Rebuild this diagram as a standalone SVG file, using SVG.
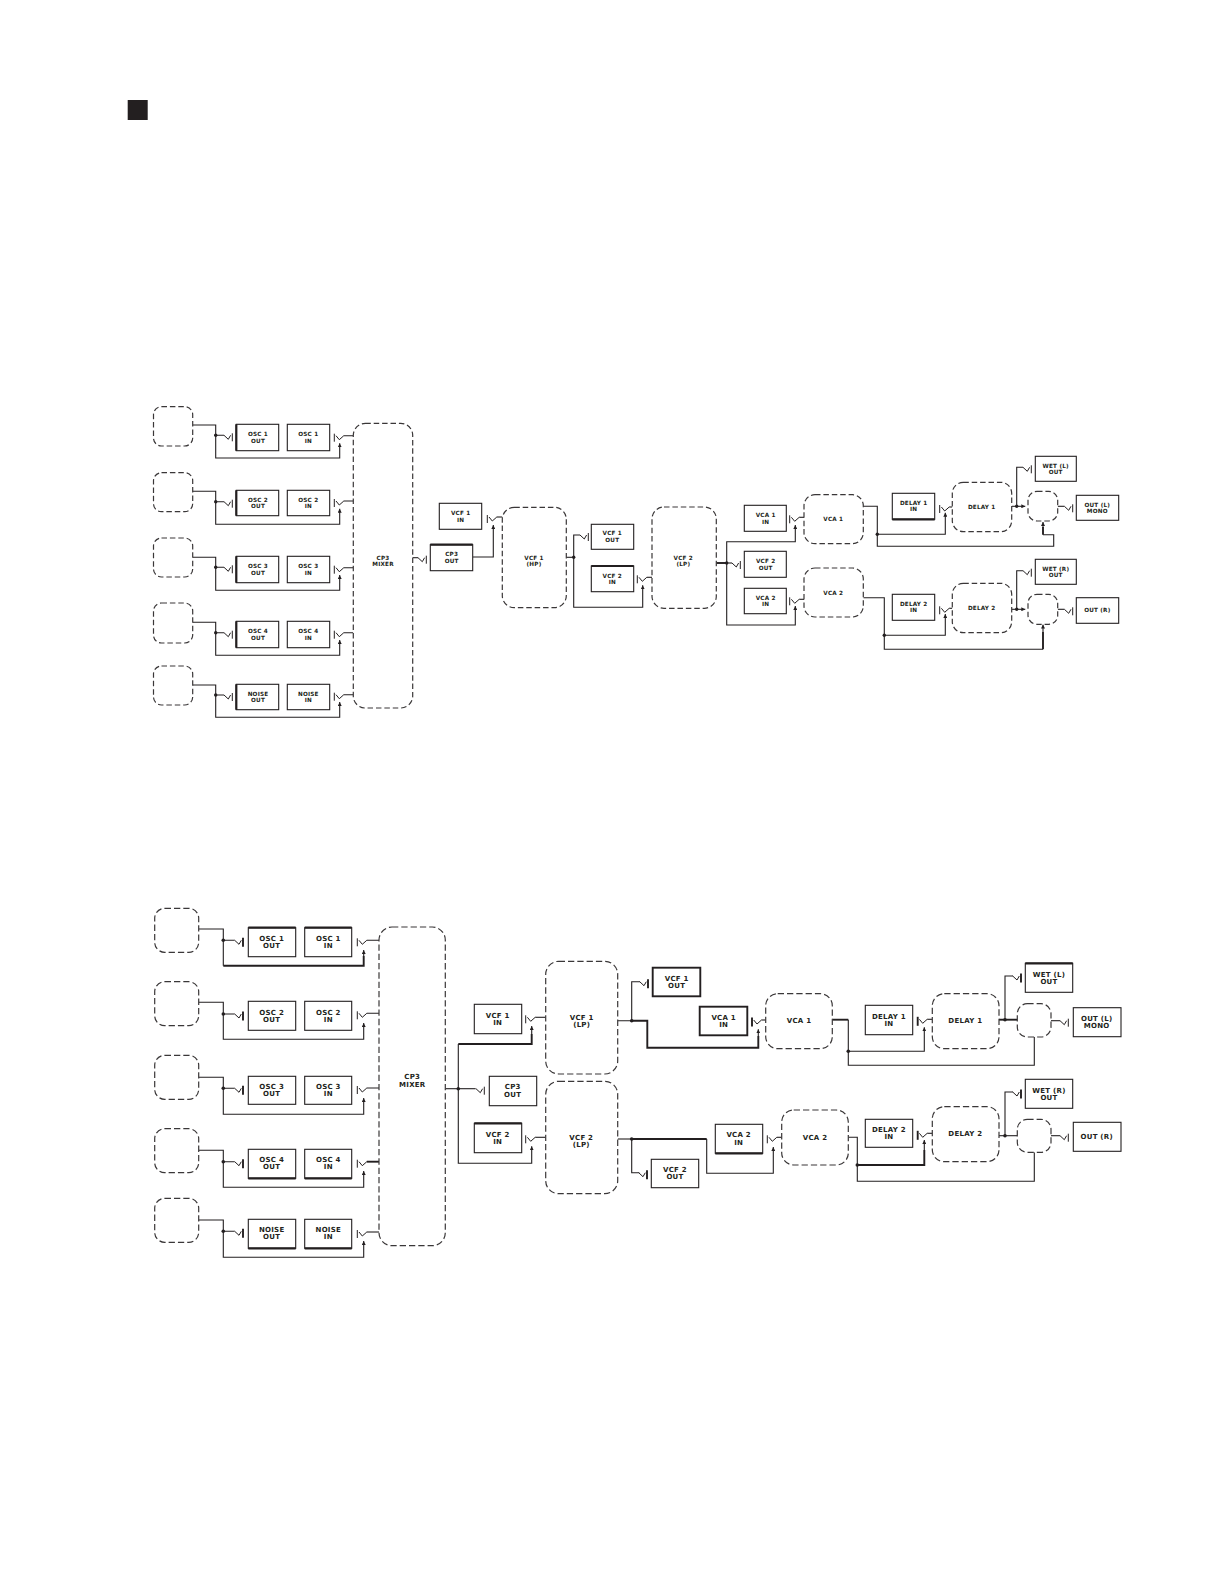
<svg xmlns="http://www.w3.org/2000/svg" width="1224" height="1584" viewBox="0 0 1224 1584">
<style>
text{font-family:"DejaVu Sans","Liberation Sans",sans-serif;font-weight:700;fill:#231f20;text-anchor:middle}
.a text{font-size:5.7px;letter-spacing:.2px}
.b text{font-size:7px;letter-spacing:.25px}
rect{fill:#fff;stroke:#231f20;stroke-width:1.1}
rect.d{stroke-dasharray:5.5 2.9;stroke:#3a3738;stroke-width:1.2}
.b rect.d{stroke-dasharray:6.3 3}
.e{fill:none;stroke:#231f20;stroke-width:2.2}
.w{fill:none;stroke:#231f20;stroke-width:1.1}
.k{fill:none;stroke:#231f20;stroke-width:1.9}
.s{fill:none;stroke:#231f20;stroke-width:1}
circle{fill:#231f20}
</style>
<defs>
<marker id="ah" markerUnits="userSpaceOnUse" viewBox="0 0 4 4" refX="4" refY="2" markerWidth="4" markerHeight="4" orient="auto"><path d="M0,0L4,2L0,4Z" fill="#231f20"/></marker>
<g id="so"><path class="s" d="M-8.3,0L-4,4L-1.7,0"/><path class="s" d="M0,-2V6"/></g>
<g id="si"><path class="s" d="M1.7,0L5,4L9.5,0"/><path class="s" d="M0,-2V6"/></g>
<g id="soT"><path class="s" d="M-8.3,0L-4,4L-1.7,0"/><path class="k" d="M0,-2.5V6.5"/></g>
<g id="siT"><path class="s" d="M1.7,0L5,4L9.5,0"/><path class="k" d="M0,-2.5V6.5"/></g>
</defs>
<rect id="square" x="127.7" y="100" width="20" height="20" style="fill:#231f20;stroke:none"/>

<g id="connectors-top">
<path class="w" marker-end="url(#ah)" d="M192.7,425H215.7V458H339.7V443.3"/>
<path class="w" marker-end="url(#ah)" d="M192.7,491.3H215.7V524.3H339.7V508.7"/>
<path class="w" marker-end="url(#ah)" d="M192.7,557.3H215.7V590.3H339.7V575"/>
<path class="w" marker-end="url(#ah)" d="M192.7,622.3H215.7V655.3H339.7V640"/>
<path class="w" marker-end="url(#ah)" d="M192.7,685H215.7V717.3H339.7V702"/>
<path class="w" d="M215.7,435.3H224M215.7,501.7H224M215.7,567.3H224M215.7,632.7H224M215.7,695H224"/>
<path class="w" d="M343.8,435.7H353.3M343.8,501H353.3M343.8,567.7H353.3M343.8,632.7H353.3M343.8,694.7H353.3"/>
<circle cx="215.7" cy="435.3" r="1.7"/><circle cx="215.7" cy="501.7" r="1.7"/><circle cx="215.7" cy="567.3" r="1.7"/><circle cx="215.7" cy="632.7" r="1.7"/><circle cx="215.7" cy="695" r="1.7"/>
<use href="#so" x="232.3" y="435.3"/><use href="#so" x="232.3" y="501.7"/><use href="#so" x="232.3" y="567.3"/><use href="#so" x="232.3" y="632.7"/><use href="#so" x="232.3" y="695"/>
<use href="#si" x="334.3" y="435.7"/><use href="#si" x="334.3" y="501"/><use href="#si" x="334.3" y="567.7"/><use href="#si" x="334.3" y="632.7"/><use href="#si" x="334.3" y="694.7"/>
<path class="w" d="M412.7,557.7H418"/><use href="#so" x="426.3" y="557.7"/>
<path class="w" marker-end="url(#ah)" d="M472.7,557H493.3V525"/>
<use href="#si" x="487.3" y="517"/><path class="w" d="M496.8,517H502.3"/>
<path class="w" d="M566.3,557.3H573.7"/><circle cx="573.7" cy="557.3" r="1.7"/>
<path class="w" d="M573.7,557.3V535H580"/><use href="#so" x="588.3" y="535"/>
<path class="w" marker-end="url(#ah)" d="M573.7,557.3V607.3H642.7V585.3"/>
<use href="#si" x="637.3" y="577.3"/><path class="w" d="M646.8,577.3H652"/>
<path class="k" d="M716.3,563H726.7"/><path class="w" d="M726.7,563H732"/><circle cx="726.7" cy="563" r="1.7"/><use href="#so" x="740.3" y="563"/>
<path class="w" marker-end="url(#ah)" d="M726.7,563V541.7H795.3V525"/>
<path class="w" marker-end="url(#ah)" d="M726.7,563V625H795.3V606"/>
<use href="#si" x="789.7" y="517.3"/><path class="w" d="M799.2,517.3H804"/>
<use href="#si" x="789.7" y="599.3"/><path class="w" d="M799.2,599.3H804"/>
<path class="w" d="M863.3,506.3H877.3V546.3H1053.7V534.7H1043"/><path class="k" d="M1043,534.7V527"/><path class="w" marker-end="url(#ah)" d="M1043,528V522"/>
<path class="w" marker-end="url(#ah)" d="M877.3,534.3H945.3V512.7"/><circle cx="877.3" cy="534.3" r="1.7"/>
<use href="#si" x="939.7" y="507"/><path class="w" d="M949.2,507H952.3"/>
<path class="w" marker-end="url(#ah)" d="M1011.7,506.3H1025.3"/><circle cx="1016.7" cy="506.3" r="1.7"/>
<path class="w" d="M1016.7,506.3V467.3H1023"/><use href="#so" x="1031.3" y="467.3"/>
<path class="w" d="M1057.7,506.3H1064.4"/><use href="#so" x="1072.7" y="506.3"/>
<path class="w" d="M863.3,597.7H884.3V649.3H1043"/><path class="k" d="M1043,649.3V632"/><path class="w" marker-end="url(#ah)" d="M1043,632V624.5"/>
<path class="w" marker-end="url(#ah)" d="M884.3,635.3H945.3V614"/><circle cx="884.3" cy="635.3" r="1.7"/>
<use href="#si" x="939.7" y="608.3"/><path class="w" d="M949.2,608.3H952.3"/>
<path class="w" marker-end="url(#ah)" d="M1011.7,609.3H1025.3"/><circle cx="1016.7" cy="609.3" r="1.7"/>
<path class="w" d="M1016.7,609.3V570.7H1023"/><use href="#so" x="1031.3" y="570.7"/>
<path class="w" d="M1057.7,609.3H1064.4"/><use href="#so" x="1072.7" y="609.3"/>
</g>

<g class="a">
<g id="src-a1"><rect class="d" x="153.5" y="406.7" width="39.2" height="39.3" rx="8"/></g>
<g id="src-a2"><rect class="d" x="153.5" y="472.7" width="39.2" height="39" rx="8"/></g>
<g id="src-a3"><rect class="d" x="153.5" y="538" width="39.2" height="39" rx="8"/></g>
<g id="src-a4"><rect class="d" x="153.5" y="603" width="39.2" height="40" rx="8"/></g>
<g id="src-a5"><rect class="d" x="153.5" y="666" width="39.2" height="39" rx="8"/></g>
<g id="a-osc1out"><rect x="236.3" y="424.3" width="42.4" height="26.4"/><path class="e" d="M236.3,424.3V450.7"/><text><tspan x="258" y="436.3">OSC 1</tspan><tspan x="258" y="442.7">OUT</tspan></text></g>
<g id="a-osc1in"><rect x="287.3" y="424.3" width="42.4" height="26.4"/><text><tspan x="308.3" y="436.3">OSC 1</tspan><tspan x="308.3" y="442.7">IN</tspan></text></g>
<g id="a-osc2out"><rect x="236.3" y="490.3" width="42.4" height="25.4"/><path class="e" d="M236.3,490.3V515.7"/><text><tspan x="258" y="502">OSC 2</tspan><tspan x="258" y="508.4">OUT</tspan></text></g>
<g id="a-osc2in"><rect x="287.3" y="490.3" width="42.4" height="25.4"/><text><tspan x="308.3" y="502">OSC 2</tspan><tspan x="308.3" y="508.4">IN</tspan></text></g>
<g id="a-osc3out"><rect x="236.3" y="556.3" width="42.4" height="26.4"/><path class="e" d="M236.3,556.3V582.7"/><text><tspan x="258" y="568.3">OSC 3</tspan><tspan x="258" y="574.7">OUT</tspan></text></g>
<g id="a-osc3in"><rect x="287.3" y="556.3" width="42.4" height="26.4"/><text><tspan x="308.3" y="568.3">OSC 3</tspan><tspan x="308.3" y="574.7">IN</tspan></text></g>
<g id="a-osc4out"><rect x="236.3" y="621.3" width="42.4" height="26.4"/><path class="e" d="M236.3,621.3V647.7"/><text><tspan x="258" y="633.3">OSC 4</tspan><tspan x="258" y="639.7">OUT</tspan></text></g>
<g id="a-osc4in"><rect x="287.3" y="621.3" width="42.4" height="26.4"/><text><tspan x="308.3" y="633.3">OSC 4</tspan><tspan x="308.3" y="639.7">IN</tspan></text></g>
<g id="a-noiseout"><rect x="236.3" y="684.3" width="42.4" height="25.4"/><path class="e" d="M236.3,684.3V709.7"/><text><tspan x="258" y="696">NOISE</tspan><tspan x="258" y="702.4">OUT</tspan></text></g>
<g id="a-noisein"><rect x="287.3" y="684.3" width="42.4" height="25.4"/><text><tspan x="308.3" y="696">NOISE</tspan><tspan x="308.3" y="702.4">IN</tspan></text></g>
<g id="a-mixer"><rect class="d" x="353.3" y="423.3" width="59.4" height="284.7" rx="12"/><text><tspan x="383" y="560">CP3</tspan><tspan x="383" y="566.3">MIXER</tspan></text></g>
<g id="a-vcf1in"><rect x="439.3" y="503.3" width="42.4" height="26"/><text><tspan x="460.7" y="515">VCF 1</tspan><tspan x="460.7" y="521.7">IN</tspan></text></g>
<g id="a-cp3out"><rect x="430.3" y="544.7" width="42.4" height="26"/><path class="e" d="M430.3,544.7H472.7"/><text><tspan x="451.7" y="556.3">CP3</tspan><tspan x="451.7" y="562.7">OUT</tspan></text></g>
<g id="a-vcf1"><rect class="d" x="502.3" y="507.3" width="64" height="100.4" rx="12"/><text><tspan x="534" y="559.7">VCF 1</tspan><tspan x="534" y="566.3">(HP)</tspan></text></g>
<g id="a-vcf1out"><rect x="591.3" y="524.3" width="42.4" height="25"/><text><tspan x="612.3" y="535.3">VCF 1</tspan><tspan x="612.3" y="541.7">OUT</tspan></text></g>
<g id="a-vcf2in"><rect x="591.3" y="566" width="42.4" height="25.7"/><path class="e" d="M591.3,566H633.7"/><text><tspan x="612.3" y="577.7">VCF 2</tspan><tspan x="612.3" y="584">IN</tspan></text></g>
<g id="a-vcf2"><rect class="d" x="652" y="507" width="64.3" height="101.3" rx="12"/><text><tspan x="683.3" y="559.7">VCF 2</tspan><tspan x="683.3" y="566.3">(LP)</tspan></text></g>
<g id="a-vca1in"><rect x="744.3" y="505.3" width="42" height="26"/><text><tspan x="765.7" y="517.3">VCA 1</tspan><tspan x="765.7" y="523.7">IN</tspan></text></g>
<g id="a-vcf2out"><rect x="744.3" y="551.3" width="42" height="26"/><text><tspan x="765.7" y="563.3">VCF 2</tspan><tspan x="765.7" y="569.7">OUT</tspan></text></g>
<g id="a-vca2in"><rect x="744.3" y="588.3" width="42" height="25.4"/><text><tspan x="765.7" y="599.7">VCA 2</tspan><tspan x="765.7" y="606">IN</tspan></text></g>
<g id="a-vca1"><rect class="d" x="804" y="494.7" width="59.3" height="49" rx="11"/><text x="833.3" y="521">VCA 1</text></g>
<g id="a-vca2"><rect class="d" x="804" y="568" width="59.3" height="49" rx="11"/><text x="833.3" y="594.7">VCA 2</text></g>
<g id="a-delay1in"><rect x="892.3" y="493.3" width="42.4" height="26"/><path class="e" d="M892.3,519.3H934.7"/><text><tspan x="913.7" y="505">DELAY 1</tspan><tspan x="913.7" y="511.3">IN</tspan></text></g>
<g id="a-delay2in"><rect x="892.3" y="594.3" width="42.4" height="26"/><text><tspan x="913.7" y="606">DELAY 2</tspan><tspan x="913.7" y="612.3">IN</tspan></text></g>
<g id="a-delay1"><rect class="d" x="952.3" y="482.3" width="59.4" height="49.4" rx="11"/><text x="981.7" y="509.3">DELAY 1</text></g>
<g id="a-delay2"><rect class="d" x="952.3" y="583.3" width="59.4" height="49.4" rx="11"/><text x="981.7" y="610">DELAY 2</text></g>
<g id="a-mix1"><rect class="d" x="1028" y="491.3" width="29.7" height="29.7" rx="9"/></g>
<g id="a-mix2"><rect class="d" x="1028" y="594.3" width="29.7" height="30" rx="9"/></g>
<g id="a-wetl"><rect x="1035.3" y="456.3" width="41" height="25"/><text><tspan x="1055.7" y="468">WET (L)</tspan><tspan x="1055.7" y="474.3">OUT</tspan></text></g>
<g id="a-wetr"><rect x="1035.3" y="559.3" width="41" height="25"/><text><tspan x="1055.7" y="571">WET (R)</tspan><tspan x="1055.7" y="577.3">OUT</tspan></text></g>
<g id="a-outl"><rect x="1076.3" y="495.3" width="42.4" height="25"/><text><tspan x="1097.3" y="506.7">OUT (L)</tspan><tspan x="1097.3" y="513">MONO</tspan></text></g>
<g id="a-outr"><rect x="1076.3" y="597.7" width="42.4" height="25.6"/><text x="1097.3" y="612.3">OUT (R)</text></g>
</g>

<g id="connectors-bottom">
<path class="w" d="M198.7,929H223.3V965.7"/><path class="k" d="M223.3,965.7H363.7V956"/><path class="w" marker-end="url(#ah)" d="M363.7,956V950"/>
<path class="w" marker-end="url(#ah)" d="M198.7,1002.3H223.3V1039.3H363.7V1023"/>
<path class="w" marker-end="url(#ah)" d="M198.7,1077.3H223.3V1114.3H363.7V1098"/>
<path class="w" marker-end="url(#ah)" d="M198.7,1150.3H223.3V1187.3H363.7V1171"/>
<path class="w" marker-end="url(#ah)" d="M198.7,1220H223.3V1257.3H363.7V1241"/>
<path class="w" d="M223.3,940.3H234.7M223.3,1014H234.7M223.3,1088.3H234.7M223.3,1161.7H234.7M223.3,1231.3H234.7"/>
<path class="w" d="M366.8,940.3H379M366.8,1013.3H379M366.8,1088H379"/><path class="k" d="M366.8,1161.7H379"/><path class="w" d="M366.8,1232H379"/>
<circle cx="223.3" cy="940.3" r="1.8"/><circle cx="223.3" cy="1014" r="1.8"/><circle cx="223.3" cy="1088.3" r="1.8"/><circle cx="223.3" cy="1161.7" r="1.8"/><circle cx="223.3" cy="1231.3" r="1.8"/>
<use href="#soT" x="243" y="940.3"/><use href="#soT" x="243" y="1014"/><use href="#soT" x="243" y="1088.3"/><use href="#soT" x="243" y="1161.7"/><use href="#soT" x="243" y="1231.3"/>
<use href="#si" x="357.3" y="940.3"/><use href="#si" x="357.3" y="1013.3"/><use href="#si" x="357.3" y="1088"/><use href="#si" x="357.3" y="1161.7"/><use href="#si" x="357.3" y="1232"/>
<path class="w" d="M445.3,1088.7H475.7"/><circle cx="458.3" cy="1088.7" r="1.8"/><use href="#so" x="484.3" y="1088.7"/>
<path class="w" d="M458.3,1088.7V1044"/><path class="k" d="M458.3,1044H531.7V1034"/><path class="w" marker-end="url(#ah)" d="M531.7,1034V1026"/>
<path class="w" marker-end="url(#ah)" d="M458.3,1088.7V1163.3H531.7V1146.3"/>
<use href="#si" x="525.7" y="1017.3"/><path class="w" d="M535.2,1017.3H545.7"/>
<use href="#si" x="525.7" y="1137.3"/><path class="w" d="M535.2,1137.3H545.7"/>
<path class="w" d="M617.7,1020.7H631.7V981.7H640"/><circle cx="631.7" cy="1020.7" r="1.8"/><use href="#soT" x="648" y="981.7"/>
<path class="k" d="M631.7,1020.7H647.3V1047.7H758.3V1036"/><path class="w" marker-end="url(#ah)" d="M758.3,1036V1029.3"/>
<use href="#siT" x="752" y="1020"/><path class="w" d="M761.5,1020H765.7"/>
<path class="w" d="M617.7,1139H631.7"/><circle cx="631.7" cy="1139" r="1.8"/>
<path class="k" d="M631.7,1139H706.7"/><path class="w" marker-end="url(#ah)" d="M706.7,1139V1173.3H773.3V1147"/>
<path class="w" d="M631.7,1139V1172.7H639.3"/><use href="#soT" x="647" y="1172.7"/>
<use href="#si" x="767.3" y="1137.3"/><path class="w" d="M776.8,1137.3H781.7"/>
<path class="k" d="M832.3,1019.7H848.3"/><path class="w" d="M848.3,1019.7V1065.3H1034.3V1037"/>
<path class="w" marker-end="url(#ah)" d="M848.3,1051.3H924.3V1027.3"/><circle cx="848.3" cy="1051.3" r="1.8"/>
<use href="#siT" x="917.7" y="1019.3"/><path class="w" d="M927.2,1019.3H932.3"/>
<path class="k" d="M999,1019.7H1017.3"/><circle cx="1005" cy="1019.7" r="1.8"/>
<path class="w" d="M1005,1019.7V976H1013"/><use href="#soT" x="1021" y="976"/>
<path class="w" d="M1051,1020.7H1060"/><use href="#so" x="1068.3" y="1020.7"/>
<path class="w" d="M848.3,1137.3H857.3V1181.3H1034.3V1152.3"/>
<path class="k" d="M857.3,1165H924.3V1150"/><path class="w" marker-end="url(#ah)" d="M924.3,1150V1140"/><circle cx="857.3" cy="1165" r="1.8"/>
<use href="#siT" x="917.7" y="1133.3"/><path class="w" d="M927.2,1133.3H932.3"/>
<path class="w" d="M999,1135.7H1017.3"/><circle cx="1005" cy="1135.7" r="1.8"/>
<path class="w" d="M1005,1135.7V1092H1013"/><use href="#soT" x="1021" y="1092"/>
<path class="w" d="M1051,1135.7H1060"/><use href="#so" x="1068.3" y="1135.7"/>
</g>

<g class="b">
<g id="src-b1"><rect class="d" x="154.7" y="908.3" width="44" height="44" rx="10"/></g>
<g id="src-b2"><rect class="d" x="154.7" y="981.7" width="44" height="44" rx="10"/></g>
<g id="src-b3"><rect class="d" x="154.7" y="1055.3" width="44" height="44" rx="10"/></g>
<g id="src-b4"><rect class="d" x="154.7" y="1128.7" width="44" height="44" rx="10"/></g>
<g id="src-b5"><rect class="d" x="154.7" y="1198.3" width="44" height="44" rx="10"/></g>
<g id="b-osc1out"><rect x="248.3" y="927.7" width="47.4" height="29"/><path class="e" d="M248.3,927.7H295.7"/><text><tspan x="271.7" y="940.7">OSC 1</tspan><tspan x="271.7" y="948">OUT</tspan></text></g>
<g id="b-osc1in"><rect x="304.7" y="927.7" width="47" height="29"/><path class="e" d="M304.7,927.7H351.7"/><text><tspan x="328.3" y="940.7">OSC 1</tspan><tspan x="328.3" y="948">IN</tspan></text></g>
<g id="b-osc2out"><rect x="248.3" y="1001.3" width="47.4" height="29"/><text><tspan x="271.7" y="1014.7">OSC 2</tspan><tspan x="271.7" y="1022">OUT</tspan></text></g>
<g id="b-osc2in"><rect x="304.7" y="1001.3" width="47" height="29"/><text><tspan x="328.3" y="1014.7">OSC 2</tspan><tspan x="328.3" y="1022">IN</tspan></text></g>
<g id="b-osc3out"><rect x="248.3" y="1076.3" width="47.4" height="28"/><text><tspan x="271.7" y="1088.7">OSC 3</tspan><tspan x="271.7" y="1096">OUT</tspan></text></g>
<g id="b-osc3in"><rect x="304.7" y="1076.3" width="47" height="28"/><text><tspan x="328.3" y="1088.7">OSC 3</tspan><tspan x="328.3" y="1096">IN</tspan></text></g>
<g id="b-osc4out"><rect x="248.3" y="1149.3" width="47.4" height="29"/><path class="e" d="M248.3,1178.3H295.7"/><text><tspan x="271.7" y="1162">OSC 4</tspan><tspan x="271.7" y="1169.3">OUT</tspan></text></g>
<g id="b-osc4in"><rect x="304.7" y="1149.3" width="47" height="29"/><path class="e" d="M304.7,1178.3H351.7"/><text><tspan x="328.3" y="1162">OSC 4</tspan><tspan x="328.3" y="1169.3">IN</tspan></text></g>
<g id="b-noiseout"><rect x="248.3" y="1219.3" width="47.4" height="29"/><path class="e" d="M248.3,1248.3H295.7"/><text><tspan x="271.7" y="1232">NOISE</tspan><tspan x="271.7" y="1239.3">OUT</tspan></text></g>
<g id="b-noisein"><rect x="304.7" y="1219.3" width="47" height="29"/><path class="e" d="M304.7,1248.3H351.7"/><text><tspan x="328.3" y="1232">NOISE</tspan><tspan x="328.3" y="1239.3">IN</tspan></text></g>
<g id="b-mixer"><rect class="d" x="379" y="927" width="66.3" height="318.7" rx="13"/><text><tspan x="412.3" y="1079.3">CP3</tspan><tspan x="412.3" y="1086.7">MIXER</tspan></text></g>
<g id="b-vcf1in"><rect x="474.3" y="1004.3" width="47.4" height="29.4"/><text><tspan x="497.7" y="1017.7">VCF 1</tspan><tspan x="497.7" y="1025">IN</tspan></text></g>
<g id="b-cp3out"><rect x="489.3" y="1076.3" width="47.4" height="29.4"/><text><tspan x="512.7" y="1089.3">CP3</tspan><tspan x="512.7" y="1096.7">OUT</tspan></text></g>
<g id="b-vcf2in"><rect x="474.3" y="1123.3" width="47.4" height="29.4"/><path class="e" d="M474.3,1123.3H521.7"/><text><tspan x="497.7" y="1136.7">VCF 2</tspan><tspan x="497.7" y="1144">IN</tspan></text></g>
<g id="b-vcf1"><rect class="d" x="545.7" y="961.3" width="72" height="112.7" rx="13"/><text><tspan x="581.7" y="1020">VCF 1</tspan><tspan x="581.7" y="1027.3">(LP)</tspan></text></g>
<g id="b-vcf2"><rect class="d" x="545.7" y="1081.3" width="72" height="112.4" rx="13"/><text><tspan x="581.3" y="1140">VCF 2</tspan><tspan x="581.3" y="1147.3">(LP)</tspan></text></g>
<g id="b-vcf1out"><rect x="652.7" y="967.7" width="47.6" height="28.6" style="stroke-width:1.9"/><text><tspan x="676.7" y="980.7">VCF 1</tspan><tspan x="676.7" y="988">OUT</tspan></text></g>
<g id="b-vca1in"><rect x="699.7" y="1006.7" width="47.6" height="28.6" style="stroke-width:1.9"/><text><tspan x="723.7" y="1019.7">VCA 1</tspan><tspan x="723.7" y="1027">IN</tspan></text></g>
<g id="b-vca2in"><rect x="715.3" y="1124.3" width="47.4" height="29"/><path class="e" d="M715.3,1153.3H762.7"/><text><tspan x="738.7" y="1137.3">VCA 2</tspan><tspan x="738.7" y="1144.7">IN</tspan></text></g>
<g id="b-vcf2out"><rect x="651.3" y="1159.3" width="47.4" height="28.4"/><text><tspan x="675" y="1172">VCF 2</tspan><tspan x="675" y="1179.3">OUT</tspan></text></g>
<g id="b-vca1"><rect class="d" x="765.7" y="993.7" width="66.6" height="55" rx="12"/><text x="799" y="1023.3">VCA 1</text></g>
<g id="b-vca2"><rect class="d" x="781.7" y="1110" width="66.6" height="55" rx="12"/><text x="815" y="1139.7">VCA 2</text></g>
<g id="b-delay1in"><rect x="865.3" y="1005.3" width="47.4" height="29.4"/><text><tspan x="889" y="1018.7">DELAY 1</tspan><tspan x="889" y="1026">IN</tspan></text></g>
<g id="b-delay2in"><rect x="865.3" y="1119.3" width="47.4" height="28"/><text><tspan x="889" y="1132">DELAY 2</tspan><tspan x="889" y="1139.3">IN</tspan></text></g>
<g id="b-delay1"><rect class="d" x="932.3" y="993.7" width="66.7" height="55" rx="12"/><text x="965.3" y="1023.3">DELAY 1</text></g>
<g id="b-delay2"><rect class="d" x="932.3" y="1106.7" width="66.7" height="55" rx="12"/><text x="965.3" y="1136.3">DELAY 2</text></g>
<g id="b-mix1"><rect class="d" x="1017.3" y="1003.7" width="33.7" height="33.3" rx="10"/></g>
<g id="b-mix2"><rect class="d" x="1017.3" y="1119.3" width="33.7" height="33" rx="10"/></g>
<g id="b-wetl"><rect x="1025.3" y="963.3" width="47.4" height="29"/><path class="e" d="M1025.3,963.3H1072.7"/><text><tspan x="1049" y="976.7">WET (L)</tspan><tspan x="1049" y="984">OUT</tspan></text></g>
<g id="b-wetr"><rect x="1025.3" y="1079.3" width="47.4" height="29"/><text><tspan x="1049" y="1092.7">WET (R)</tspan><tspan x="1049" y="1100">OUT</tspan></text></g>
<g id="b-outl"><rect x="1073.3" y="1007.7" width="47.7" height="29"/><text><tspan x="1096.7" y="1021">OUT (L)</tspan><tspan x="1096.7" y="1027.7">MONO</tspan></text></g>
<g id="b-outr"><rect x="1073.3" y="1122.3" width="47.7" height="29"/><text x="1096.7" y="1139.3">OUT (R)</text></g>
</g>
</svg>
